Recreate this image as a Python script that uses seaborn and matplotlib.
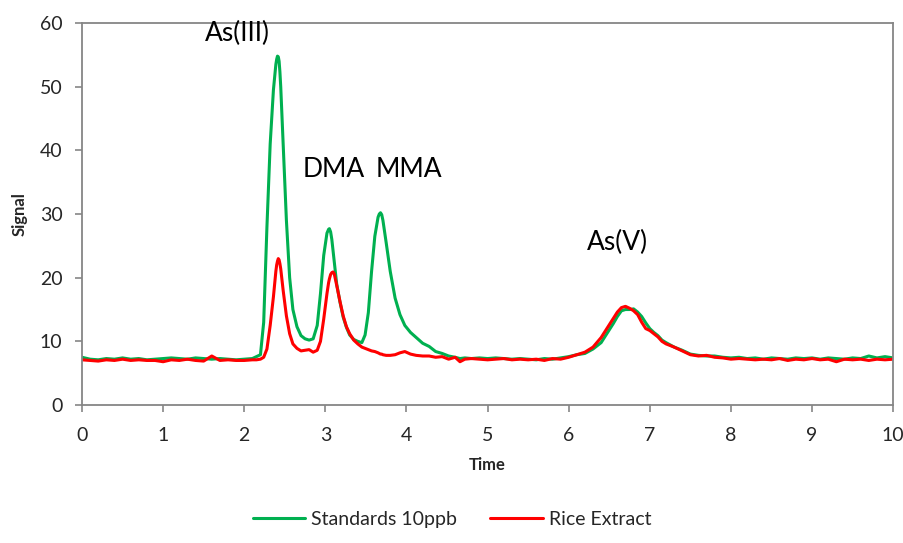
import matplotlib
matplotlib.use("Agg")
import matplotlib.pyplot as plt
import pandas as pd
import seaborn as sns

# time axis (minutes), denser around the peaks
time = [
    0.0, 0.1, 0.2, 0.3, 0.4, 0.5, 0.6, 0.7, 0.8, 0.9, 1.0,
    1.1, 1.2, 1.3, 1.4, 1.5, 1.6, 1.7, 1.8, 1.9, 2.0, 2.1,
    2.15, 2.20, 2.24, 2.28, 2.32, 2.36, 2.39, 2.40, 2.41, 2.42,
    2.43, 2.44, 2.45, 2.48, 2.52, 2.56, 2.60, 2.65, 2.70, 2.75,
    2.80, 2.85, 2.90, 2.94, 2.98, 3.02, 3.04, 3.05, 3.065, 3.08,
    3.095, 3.11, 3.14, 3.18, 3.22, 3.26, 3.30, 3.35, 3.40, 3.45,
    3.49, 3.53, 3.57, 3.61, 3.65, 3.665, 3.68, 3.695, 3.71, 3.75,
    3.80, 3.86, 3.92, 3.98, 4.05, 4.12, 4.20, 4.28, 4.36, 4.44,
    4.52, 4.60, 4.66, 4.72, 4.80, 4.9, 5.0, 5.1, 5.2, 5.3,
    5.4, 5.5, 5.6, 5.7, 5.8, 5.9, 6.0, 6.1, 6.2, 6.3,
    6.4, 6.5, 6.55, 6.6, 6.65, 6.7, 6.75, 6.8, 6.85, 6.9,
    6.95, 7.0, 7.05, 7.1, 7.15, 7.2, 7.3, 7.4, 7.5, 7.6,
    7.7, 7.8, 7.9, 8.0, 8.1, 8.2, 8.3, 8.4, 8.5, 8.6,
    8.7, 8.8, 8.9, 9.0, 9.1, 9.2, 9.3, 9.4, 9.5, 9.6,
    9.7, 9.8, 9.9, 10.0,
]

standards = [
    7.5, 7.2, 7.1, 7.3, 7.2, 7.4, 7.2, 7.3, 7.1, 7.2, 7.3,
    7.4, 7.3, 7.2, 7.4, 7.3, 7.2, 7.3, 7.2, 7.1, 7.2, 7.3,
    7.6, 7.9, 13.0, 28.0, 41.0, 49.5, 53.5, 54.3, 54.8, 54.7,
    54.0, 52.3, 50.0, 41.0, 29.0, 20.0, 15.0, 12.3, 10.9, 10.4,
    10.2, 10.4, 12.5, 17.5, 23.5, 27.0, 27.6, 27.7, 27.2, 26.0,
    24.3, 22.5, 19.0, 16.2, 13.8, 12.2, 11.0, 10.3, 10.0, 9.8,
    11.0, 14.5, 21.0, 26.5, 29.5, 30.0, 30.2, 29.9, 29.0, 25.5,
    21.0, 16.8, 14.2, 12.5, 11.4, 10.6, 9.7, 9.2, 8.4, 8.1,
    7.7, 7.5, 7.3, 7.4, 7.3, 7.4, 7.3, 7.4, 7.3, 7.2,
    7.3, 7.2, 7.1, 7.3, 7.2, 7.4, 7.6, 7.9, 8.1, 8.8,
    9.8, 11.8, 12.8, 13.9, 14.8, 15.0, 15.0, 15.1, 14.6, 13.9,
    12.9, 12.0, 11.4, 10.9, 10.2, 9.8, 9.1, 8.6, 8.0, 7.8,
    7.7, 7.7, 7.5, 7.4, 7.5, 7.3, 7.4, 7.2, 7.4, 7.3,
    7.2, 7.4, 7.3, 7.4, 7.2, 7.4, 7.3, 7.2, 7.4, 7.3,
    7.7, 7.4, 7.6, 7.4,
]

rice = [
    7.1, 7.0, 6.9, 7.1, 7.0, 7.2, 7.0, 7.1, 7.0, 7.0, 6.8,
    7.1, 7.0, 7.2, 7.0, 6.9, 7.7, 7.0, 7.1, 7.0, 7.0, 7.1,
    7.1, 7.2, 7.5, 8.8, 12.5, 17.0, 21.0, 22.0, 22.6, 23.0,
    22.8, 22.2, 21.4, 18.0, 14.0, 11.2, 9.6, 8.9, 8.5, 8.6,
    8.7, 8.3, 8.6, 10.0, 13.5, 17.5, 19.2, 19.8, 20.5, 20.8,
    20.9, 20.6, 18.8, 16.3, 14.0, 12.3, 11.2, 10.2, 9.6, 9.1,
    8.9, 8.7, 8.5, 8.4, 8.2, 8.1, 8.0, 8.0, 7.9, 7.8,
    7.8, 7.9, 8.2, 8.4, 8.0, 7.8, 7.7, 7.7, 7.5, 7.6,
    7.2, 7.5, 6.8, 7.2, 7.3, 7.2, 7.1, 7.2, 7.3, 7.1,
    7.2, 7.1, 7.2, 7.0, 7.3, 7.2, 7.5, 7.9, 8.3, 9.1,
    10.6, 12.6, 13.6, 14.6, 15.3, 15.5, 15.2, 14.8, 14.2, 13.0,
    12.0, 11.7, 11.2, 10.7, 10.0, 9.6, 9.1, 8.5, 7.9, 7.7,
    7.8, 7.5, 7.4, 7.2, 7.3, 7.2, 7.1, 7.2, 7.1, 7.3,
    7.0, 7.2, 7.1, 7.3, 7.1, 7.2, 6.8, 7.2, 7.1, 7.2,
    7.0, 7.2, 7.1, 7.2,
]

peak_names = ["As(III)", "DMA", "MMA", "As(V)"]
peak_x = [1.91, 3.10, 4.03, 6.60]
peak_y = [58.4, 37.0, 37.0, 25.6]

sns.set_style("white")
plt.rcParams["font.family"] = ["Lato", "DejaVu Sans"]

df = pd.DataFrame({"time": time, "Standards 10ppb": standards, "Rice Extract": rice})
long = df.melt(id_vars="time", var_name="series", value_name="signal")

fig = plt.figure(figsize=(9.04, 5.43), dpi=100)
ax = fig.add_axes([0.0907, 0.2541, 0.8973, 0.7035])

sns.lineplot(
    data=long, x="time", y="signal", hue="series",
    palette={"Standards 10ppb": "#00B050", "Rice Extract": "#FF0000"},
    linewidth=2.2, sort=False, ax=ax, solid_joinstyle="round",
)

for name, px, py in zip(peak_names, peak_x, peak_y):
    ax.text(px, py, name, ha="center", va="center", fontsize=19, color="black")

ax.set_xlim(0, 10)
ax.set_ylim(0, 60)
ax.set_xticks(range(0, 11))
ax.set_yticks(range(0, 61, 10))
ax.set_xlabel("Time", fontsize=12, fontweight="bold", labelpad=9)
ax.set_ylabel("Signal", fontsize=12, fontweight="bold", labelpad=9)
ax.tick_params(axis="both", labelsize=14, length=5, width=1.2, color="#868686",
               direction="out", bottom=True, left=True)
ax.tick_params(axis="x", pad=11)
ax.tick_params(axis="y", pad=9)

for side in ["left", "bottom", "top", "right"]:
    ax.spines[side].set_visible(True)
    ax.spines[side].set_color("#868686")
    ax.spines[side].set_linewidth(1.3)

handles, labels = ax.get_legend_handles_labels()
ax.get_legend().remove()
fig.legend(handles, labels, loc="center", bbox_to_anchor=(0.5, 0.044), ncol=2,
           frameon=False, fontsize=14, handlelength=2.7, handletextpad=0.3,
           columnspacing=1.7)

fig.savefig("out.png", dpi=100)
